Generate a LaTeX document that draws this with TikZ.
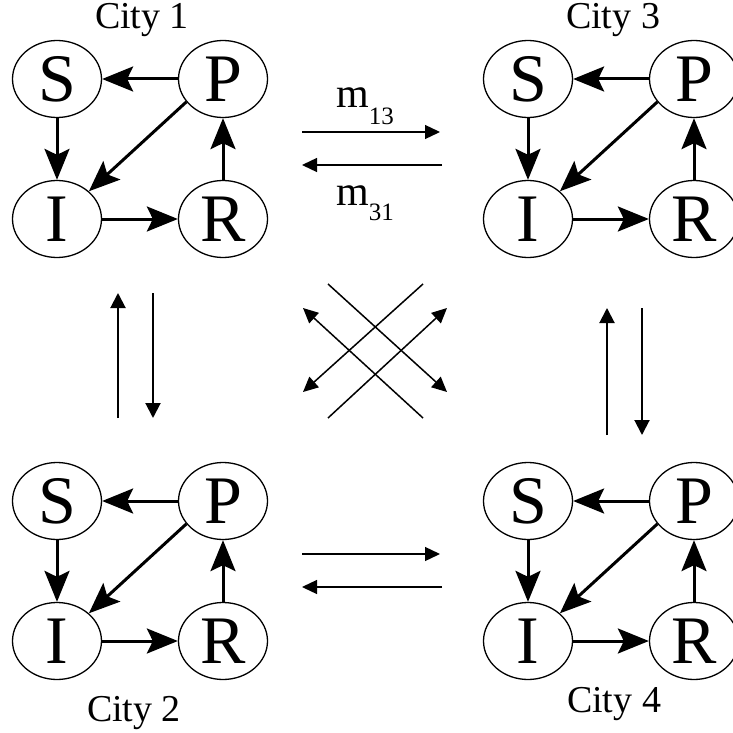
\documentclass[tikz,border=0pt]{standalone}
\usepackage{fontspec}
\setmainfont{Liberation Serif}
\usetikzlibrary{shapes.geometric,arrows.meta}
\newcommand\mkcity[3]{%
  \node[st] (#1S) at (#2+57,#3+79) {S};
  \node[st] (#1P) at (#2+223,#3+79) {P};
  \node[st] (#1I) at (#2+57,#3+219) {I};
  \node[st] (#1R) at (#2+223,#3+219) {R};
  \draw[flow] (#1P) -- (#1S);
  \draw[flow] (#1S) -- (#1I);
  \draw[flow] (#1I) -- (#1R);
  \draw[flow] (#1R) -- (#1P);
  \draw[flow] (#1P.212) -- (#1I.41);
}
\begin{document}
\begin{tikzpicture}[x=1pt,y=-1pt,
  st/.style={ellipse,draw,line width=1.3pt,minimum width=89pt,minimum height=77pt,inner sep=0pt,font=\fontsize{68}{68}\selectfont},
  flow/.style={line width=3pt,-{Stealth[length=31pt,width=25pt,inset=6pt]}},
  mig/.style={line width=1.3pt,-{Triangle[length=15pt,width=14pt]}},
  vmig/.style={line width=2pt,-{Triangle[length=15pt,width=15pt]}},
  xmig/.style={line width=1.5pt,-{Triangle[length=15pt,width=14pt]}},
  cityl/.style={anchor=base,inner sep=0pt,font=\fontsize{38}{38}\selectfont},
  lab/.style={anchor=base west,inner sep=0pt,font=\fontsize{42}{42}\selectfont}
]
\useasboundingbox (0,0) rectangle (732,733);
\mkcity{a}{0}{0}
\mkcity{c}{471}{0}
\mkcity{b}{0}{422}
\mkcity{d}{471}{422}
\node[cityl] (t1) at (142,29) {City 1};
\node[cityl] (t3) at (613,29) {City 3};
\node[cityl] (t2) at (134,721) {City 2};
\node[cityl] (t4) at (614,712) {City 4};
% horizontal migration
\coordinate (h1a) at (302,132); \coordinate (h1b) at (440,132);
\coordinate (h2a) at (442,165); \coordinate (h2b) at (302,165);
\coordinate (h3a) at (302,554); \coordinate (h3b) at (440,554);
\coordinate (h4a) at (442,587); \coordinate (h4b) at (302,587);
\draw[mig] (h1a) -- (h1b);
\draw[mig] (h2a) -- (h2b);
\draw[mig] (h3a) -- (h3b);
\draw[mig] (h4a) -- (h4b);
\node[lab] (l13) at (336,108) {m\raisebox{-17pt}{\fontsize{25}{25}\selectfont 13}};
\node[lab] (l31) at (336,205) {m\raisebox{-15pt}{\fontsize{25}{25}\selectfont 31}};
% vertical migration
\coordinate (v1a) at (118,418); \coordinate (v1b) at (118,293);
\coordinate (v2a) at (153,293); \coordinate (v2b) at (153,418);
\coordinate (v3a) at (607,435); \coordinate (v3b) at (607,308);
\coordinate (v4a) at (642,308); \coordinate (v4b) at (642,435);
\draw[vmig] (v1a) -- (v1b);
\draw[vmig] (v2a) -- (v2b);
\draw[vmig] (v3a) -- (v3b);
\draw[vmig] (v4a) -- (v4b);
% diagonal migration
\coordinate (xa1) at (328,284); \coordinate (xa2) at (447,392);
\coordinate (xb1) at (423,284); \coordinate (xb2) at (303,392);
\coordinate (xc1) at (328,418); \coordinate (xc2) at (447,308);
\coordinate (xd1) at (423,418); \coordinate (xd2) at (303,308);
\draw[xmig] (xa1) -- (xa2);
\draw[xmig] (xb1) -- (xb2);
\draw[xmig] (xc1) -- (xc2);
\draw[xmig] (xd1) -- (xd2);
\end{tikzpicture}
\end{document}
